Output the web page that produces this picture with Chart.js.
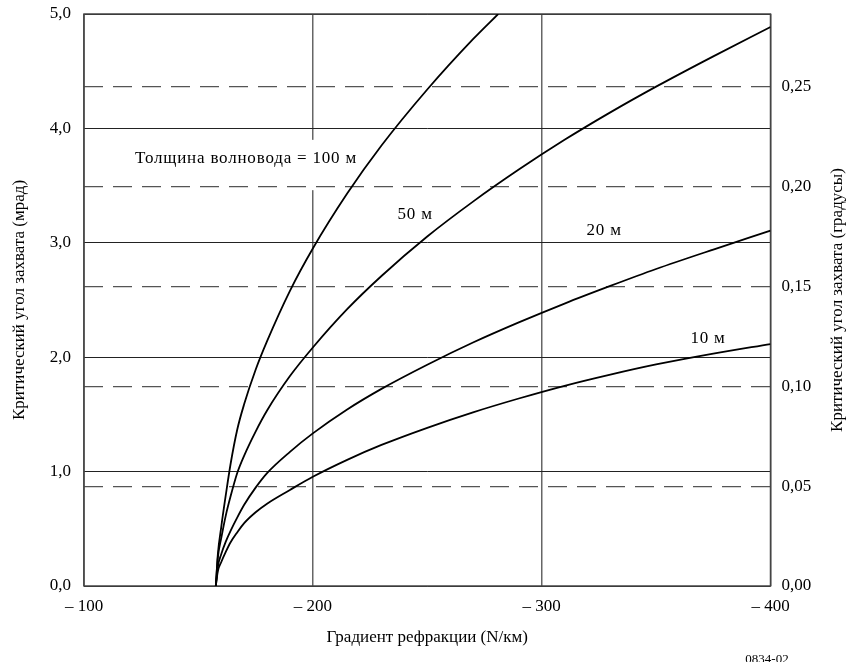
<!DOCTYPE html>
<html>
<head>
<meta charset="utf-8">
<script src="https://cdn.jsdelivr.net/npm/chart.js@4.4.1/dist/chart.umd.min.js"></script>
<style>
  html, body { margin: 0; padding: 0; background: #fff; }
  #wrap { width: 847px; height: 662px; position: relative; }
</style>
</head>
<body>
<div id="wrap"><canvas id="chart"></canvas></div>
<script>
// refraction gradient (N/km) where the curves were read
const gradient = [-157.6, -158.5, -160, -162, -164, -167, -170, -175, -180, -190, -200,
  -215, -230, -250, -270, -290, -310, -330, -350, -375, -400];
// the 100 m curve leaves the top of the plot near -281
const gradient100 = [-157.6, -158.5, -160, -162, -164, -167, -170, -175, -180, -190, -200,
  -215, -230, -250, -270, -281];

// critical angle (mrad) per duct thickness
const mrad100 = [0, 0.28, 0.52, 0.80, 1.06, 1.37, 1.59, 1.89, 2.14, 2.58, 2.95,
  3.43, 3.85, 4.34, 4.78, 5.0];
const mrad50 = [0, 0.25, 0.42, 0.62, 0.78, 0.99, 1.14, 1.35, 1.534, 1.835, 2.085,
  2.42, 2.71, 3.055, 3.36, 3.64, 3.90, 4.14, 4.365, 4.63, 4.886];
const mrad20 = [0, 0.17, 0.28, 0.39, 0.48, 0.60, 0.71, 0.86, 0.987, 1.173, 1.334,
  1.543, 1.723, 1.934, 2.128, 2.304, 2.469, 2.623, 2.771, 2.941, 3.106];
const mrad10 = [0, 0.13, 0.21, 0.30, 0.38, 0.47, 0.55, 0.645, 0.72, 0.84, 0.955,
  1.103, 1.233, 1.383, 1.518, 1.639, 1.750, 1.848, 1.937, 2.032, 2.115];

// in-plot curve labels, anchored in data units (gradient, mrad)
const curveLabels = ['Толщина волновода = 100 м', '50 м', '20 м', '10 м'];
const labelGradient = [-170.8, -244.7, -327.3, -372.7];
const labelMrad = [3.733, 3.243, 3.106, 2.164];

const FONT = "'Liberation Serif', 'Times New Roman', serif";
const fmt = (v, d) => v.toFixed(d).replace('.', ',');
const MRAD_MAX = 5;
const DEG_MAX = MRAD_MAX / 1000 * 180 / Math.PI;

const pts = (xs, ys) => xs.map((x, i) => ({ x: x, y: ys[i] }));

const lineStyle = {
  borderColor: '#000',
  borderWidth: 1.8,
  pointRadius: 0,
  fill: false,
  cubicInterpolationMode: 'monotone'
};

// keep the plot box where the original has it, labels may overhang
const noLabelPad = s => { s.paddingTop = 0; s.paddingBottom = 0; };

const extras = {
  id: 'extras',
  beforeDatasetsDraw(chart) {
    const { ctx, chartArea: a, scales: { x, y } } = chart;
    ctx.save();
    // the -200 line is broken behind the 100 m label
    const gx = x.getPixelForValue(-200);
    const top = y.getPixelForValue(3.9);
    ctx.fillStyle = '#fff';
    ctx.fillRect(gx - 3, top, 6, y.getPixelForValue(3.46) - top);
    ctx.strokeStyle = '#444';
    ctx.lineWidth = 1.5;
    ctx.strokeRect(a.left, a.top, a.width, a.height);
    ctx.restore();
  },
  afterDatasetsDraw(chart) {
    const { ctx, chartArea: a, scales: { x, y } } = chart;
    ctx.save();
    ctx.fillStyle = '#000';
    ctx.textAlign = 'center';
    ctx.textBaseline = 'middle';
    ctx.font = '17px ' + FONT;
    ctx.letterSpacing = '0.8px';
    curveLabels.forEach((t, i) => {
      ctx.fillText(t, x.getPixelForValue(labelGradient[i]), y.getPixelForValue(labelMrad[i]));
    });
    ctx.letterSpacing = '0px';

    // right axis title reads bottom to top
    ctx.save();
    ctx.font = '17px ' + FONT;
    ctx.translate(838, (a.top + a.bottom) / 2);
    ctx.rotate(-Math.PI / 2);
    ctx.fillText('Критический угол захвата (градусы)', 0, 0);
    ctx.restore();

    ctx.font = '13px ' + FONT;
    ctx.textBaseline = 'alphabetic';
    ctx.fillText('0834-02', 767, 663);
    ctx.restore();
  }
};

const tickFont = { family: FONT, size: 17 };

new Chart(document.getElementById('chart'), {
  type: 'line',
  data: {
    datasets: [
      Object.assign({ label: '100 м', data: pts(gradient100, mrad100) }, lineStyle),
      Object.assign({ label: '50 м', data: pts(gradient, mrad50) }, lineStyle),
      Object.assign({ label: '20 м', data: pts(gradient, mrad20) }, lineStyle),
      Object.assign({ label: '10 м', data: pts(gradient, mrad10) }, lineStyle)
    ]
  },
  options: {
    responsive: true,
    maintainAspectRatio: false,
    animation: false,
    layout: { padding: { top: 14, left: 0, right: 0, bottom: 0 } },
    plugins: {
      legend: { display: false },
      tooltip: { enabled: false }
    },
    scales: {
      x: {
        type: 'linear',
        min: -400,
        max: -100,
        reverse: true,
        ticks: {
          stepSize: 100,
          maxRotation: 0,
          padding: 10,
          color: '#000',
          font: tickFont,
          callback: v => '– ' + Math.abs(v)
        },
        grid: { color: '#666', lineWidth: 1.5, drawTicks: false },
        border: { display: false },
        title: {
          display: true,
          text: 'Градиент рефракции (N/км)',
          color: '#000',
          font: tickFont,
          padding: { top: 0, bottom: 14 }
        },
        afterFit: s => { s.height = 76; }
      },
      y: {
        position: 'left',
        min: 0,
        max: MRAD_MAX,
        ticks: {
          stepSize: 1,
          padding: 13,
          color: '#000',
          font: tickFont,
          callback: v => fmt(v, 1)
        },
        grid: { color: '#222', lineWidth: 1, drawTicks: false },
        border: { display: false },
        title: {
          display: true,
          text: 'Критический угол захвата (мрад)',
          color: '#000',
          font: tickFont,
          padding: { top: 9, bottom: 0 }
        },
        afterFit: s => { s.width = 84; noLabelPad(s); }
      },
      y2: {
        position: 'right',
        min: 0,
        max: DEG_MAX,
        ticks: {
          stepSize: 0.05,
          includeBounds: false,
          padding: 11,
          color: '#000',
          font: tickFont,
          callback: v => fmt(v, 2)
        },
        grid: {
          color: c => (c.tick && Math.abs(c.tick.value) < 1e-9) ? 'rgba(0,0,0,0)' : '#555',
          lineWidth: 1.2,
          drawTicks: false
        },
        border: { display: false, dash: [19, 10] },
        afterFit: s => { s.width = 76.5; noLabelPad(s); }
      }
    }
  },
  plugins: [extras]
});
</script>
</body>
</html>
